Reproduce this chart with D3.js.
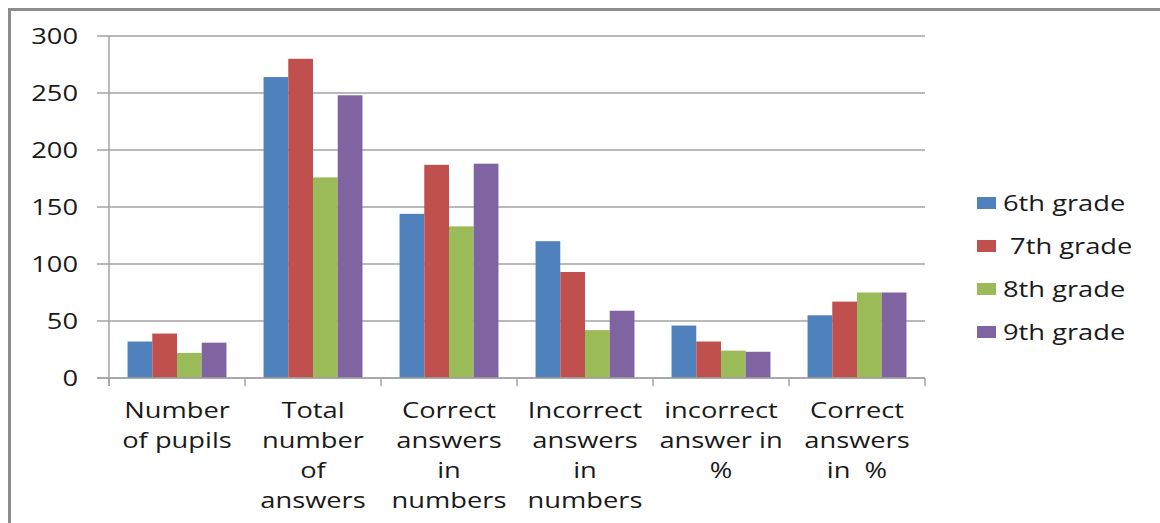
<!DOCTYPE html>
<html>
<head>
<meta charset="utf-8">
<script src="https://cdn.jsdelivr.net/npm/d3@7"></script>
<style>
  html, body { margin: 0; padding: 0; background: #fff; }
  svg { display: block; }
  text { font-family: "Open Sans", sans-serif; fill: #1a1a1a; white-space: pre; }
</style>
</head>
<body>
<svg id="chart" width="1160" height="523"></svg>
<script>
// Survey results per grade
const categories = [
  "Number\nof pupils",
  "Total\nnumber\nof\nanswers",
  "Correct\nanswers\nin\nnumbers",
  "Incorrect\nanswers\nin\nnumbers",
  "incorrect\nanswer in\n%",
  "Correct\nanswers\nin  %"
];
const seriesNames = ["6th grade", " 7th grade", "8th grade", "9th grade"];
const grade6 = [32, 264, 144, 120, 46, 55];
const grade7 = [39, 280, 187, 93, 32, 67];
const grade8 = [22, 176, 133, 42, 24, 75];
const grade9 = [31, 248, 188, 59, 23, 75];
const yTicks = [0, 50, 100, 150, 200, 250, 300];
const colors = ["#4F81BD", "#C0504D", "#9BBB59", "#8064A2"];

const series = [grade6, grade7, grade8, grade9];

const svg = d3.select("#chart");
const SX = 1.3;          // horizontal stretch of lettering
const FONT = 21;

const plot = { left: 109, right: 925, top: 36, bottom: 378 };

// Outer frame
svg.append("rect")
  .attr("x", 9.5).attr("y", 9.5)
  .attr("width", 1300).attr("height", 700)
  .attr("fill", "none")
  .attr("stroke", "#8c8c8c")
  .attr("stroke-width", 3);

const x = d3.scaleBand()
  .domain(d3.range(categories.length))
  .range([plot.left, plot.right])
  .padding(0);

const xInner = d3.scaleBand()
  .domain(d3.range(series.length))
  .range([0, x.bandwidth()])
  .paddingInner(0)
  .paddingOuter(0.75);

const y = d3.scaleLinear()
  .domain([0, 300])
  .range([plot.bottom, plot.top]);

// Horizontal gridlines (with outside tick stubs)
svg.append("g")
  .selectAll("line")
  .data(yTicks)
  .join("line")
  .attr("x1", plot.left - 12)
  .attr("x2", plot.right)
  .attr("y1", d => y(d))
  .attr("y2", d => y(d))
  .attr("stroke", "#a3a3a3")
  .attr("stroke-width", 1.5);

// Y tick labels
svg.append("g")
  .selectAll("text")
  .data(yTicks)
  .join("text")
  .attr("transform", d => `translate(78,${y(d)}) scale(${SX},1)`)
  .attr("text-anchor", "end")
  .attr("dy", "0.36em")
  .style("font-size", FONT + "px")
  .text(d => d);

// Bars
const groups = svg.append("g")
  .selectAll("g")
  .data(categories.map((c, i) => i))
  .join("g")
  .attr("transform", i => `translate(${x(i)},0)`);

groups.selectAll("rect")
  .data(i => series.map((s, k) => ({ k, v: s[i] })))
  .join("rect")
  .attr("x", d => xInner(d.k))
  .attr("width", xInner.bandwidth())
  .attr("y", d => y(d.v))
  .attr("height", d => y(0) - y(d.v))
  .attr("fill", d => colors[d.k]);

// Axes lines
svg.append("line")
  .attr("x1", plot.left).attr("x2", plot.left)
  .attr("y1", plot.top).attr("y2", plot.bottom + 8)
  .attr("stroke", "#a3a3a3").attr("stroke-width", 1.5);

svg.append("line")
  .attr("x1", plot.left - 12).attr("x2", plot.right)
  .attr("y1", plot.bottom).attr("y2", plot.bottom)
  .attr("stroke", "#a3a3a3").attr("stroke-width", 1.5);

// Category boundary ticks
svg.append("g")
  .selectAll("line")
  .data(d3.range(categories.length + 1))
  .join("line")
  .attr("x1", i => i < categories.length ? x(i) : plot.right)
  .attr("x2", i => i < categories.length ? x(i) : plot.right)
  .attr("y1", plot.bottom)
  .attr("y2", plot.bottom + 8)
  .attr("stroke", "#a3a3a3").attr("stroke-width", 1.5);

// Category labels, one line per text row
const labelG = svg.append("g");
categories.forEach((c, i) => {
  const cx = x(i) + x.bandwidth() / 2;
  c.split("\n").forEach((line, j) => {
    labelG.append("text")
      .attr("transform", `translate(${cx},${418 + j * 30}) scale(${SX},1)`)
      .attr("text-anchor", "middle")
      .style("font-size", FONT + "px")
      .text(line);
  });
});

// Legend
const ly = d3.scalePoint()
  .domain(d3.range(seriesNames.length))
  .range([203, 332]);

const legend = svg.append("g")
  .selectAll("g")
  .data(seriesNames.map((n, k) => k))
  .join("g")
  .attr("transform", k => `translate(977,${ly(k)})`);

legend.append("rect")
  .attr("x", 0).attr("y", -6)
  .attr("width", 19).attr("height", 12)
  .attr("fill", k => colors[k]);

legend.append("text")
  .attr("transform", `translate(26,0) scale(${SX},1)`)
  .attr("dy", "0.36em")
  .style("font-size", FONT + "px")
  .text(k => seriesNames[k]);
</script>
</body>
</html>
